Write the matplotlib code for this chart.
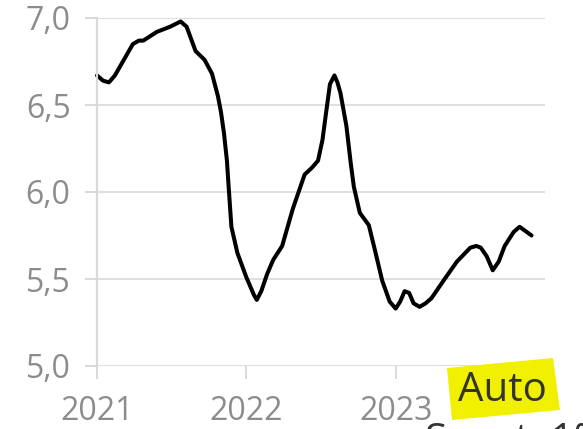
import matplotlib
matplotlib.use('Agg')
import matplotlib.pyplot as plt
from matplotlib.patches import Polygon
from matplotlib.ticker import FuncFormatter

plt.rcParams['font.family'] = ['Open Sans', 'DejaVu Sans']

# Values (decimal year, value)
years = [2021.00, 2021.04, 2021.08, 2021.12, 2021.18, 2021.24, 2021.28, 2021.31,
         2021.40, 2021.49, 2021.56, 2021.60, 2021.66, 2021.72, 2021.77, 2021.81,
         2021.83, 2021.85, 2021.87, 2021.88, 2021.90, 2021.94, 2022.00, 2022.05,
         2022.07, 2022.10, 2022.14, 2022.18, 2022.24, 2022.31, 2022.39, 2022.44,
         2022.48, 2022.51, 2022.53, 2022.56, 2022.59, 2022.61, 2022.63, 2022.67,
         2022.70, 2022.72, 2022.76, 2022.82, 2022.86, 2022.91, 2022.96, 2023.00,
         2023.03, 2023.06, 2023.09, 2023.12, 2023.16, 2023.20, 2023.24, 2023.32,
         2023.41, 2023.50, 2023.54, 2023.57, 2023.61, 2023.65, 2023.69, 2023.73,
         2023.79, 2023.83, 2023.91]
values = [6.67, 6.64, 6.63, 6.67, 6.76, 6.85, 6.87, 6.87,
          6.92, 6.95, 6.98, 6.95, 6.81, 6.76, 6.68, 6.55,
          6.46, 6.34, 6.18, 6.05, 5.80, 5.65, 5.51, 5.41,
          5.38, 5.43, 5.53, 5.61, 5.69, 5.90, 6.10, 6.14,
          6.18, 6.30, 6.43, 6.62, 6.67, 6.63, 6.57, 6.38,
          6.16, 6.03, 5.88, 5.81, 5.67, 5.49, 5.37, 5.33,
          5.37, 5.43, 5.42, 5.36, 5.34, 5.36, 5.39, 5.49,
          5.60, 5.68, 5.69, 5.68, 5.63, 5.55, 5.60, 5.69,
          5.77, 5.80, 5.75]

x_ticks = [2021, 2022, 2023, 2024]
x_labels = ['2021', '2022', '2023', '']
y_ticks = [5.0, 5.5, 6.0, 6.5, 7.0]

W, H = 583, 429
fig = plt.figure(figsize=(W / 100, H / 100), dpi=100)
ax = fig.add_axes([97 / W, 1 - 366 / H, 448 / W, 348 / H])

ax.plot(years, values, color='black', linewidth=2.9,
        solid_capstyle='round', solid_joinstyle='round', clip_on=False)

ax.set_xlim(2021, 2024)
ax.set_ylim(5.0, 7.0)
ax.set_xticks(x_ticks)
ax.set_xticklabels(x_labels)
ax.set_yticks(y_ticks)
ax.yaxis.set_major_formatter(FuncFormatter(lambda v, p: f'{v:.1f}'.replace('.', ',')))

grid_c = '#d9d9d9'
ax.grid(axis='y', color=grid_c, linewidth=1.2)
ax.set_axisbelow(True)
for s in ['top', 'right', 'bottom']:
    ax.spines[s].set_visible(False)
ax.spines['left'].set_color(grid_c)
ax.spines['left'].set_linewidth(1.6)
ax.tick_params(axis='both', colors=grid_c, length=9, width=1.4,
               labelcolor='#8c8c8c', labelsize=23)
ax.tick_params(axis='y', pad=10)
ax.tick_params(axis='x', pad=12)

# yellow "Auto" highlight
box = Polygon([(447, H - 368), (553, H - 358), (560, H - 410), (452, H - 420)],
              closed=True, transform=None, facecolor='#f0f000',
              edgecolor='none', zorder=5)
fig.patches.append(box)
fig.text(502 / W, 1 - 391 / H, 'Auto', ha='center', va='center',
         fontsize=29, color='#333333', zorder=6)

# label below the chart, mostly outside the picture
fig.text(425 / W, 1 - 421 / H, 'Sonst. 1%', ha='left', va='top',
         fontsize=29, color='#333333', zorder=4)

fig.savefig('out.png', dpi=100)
